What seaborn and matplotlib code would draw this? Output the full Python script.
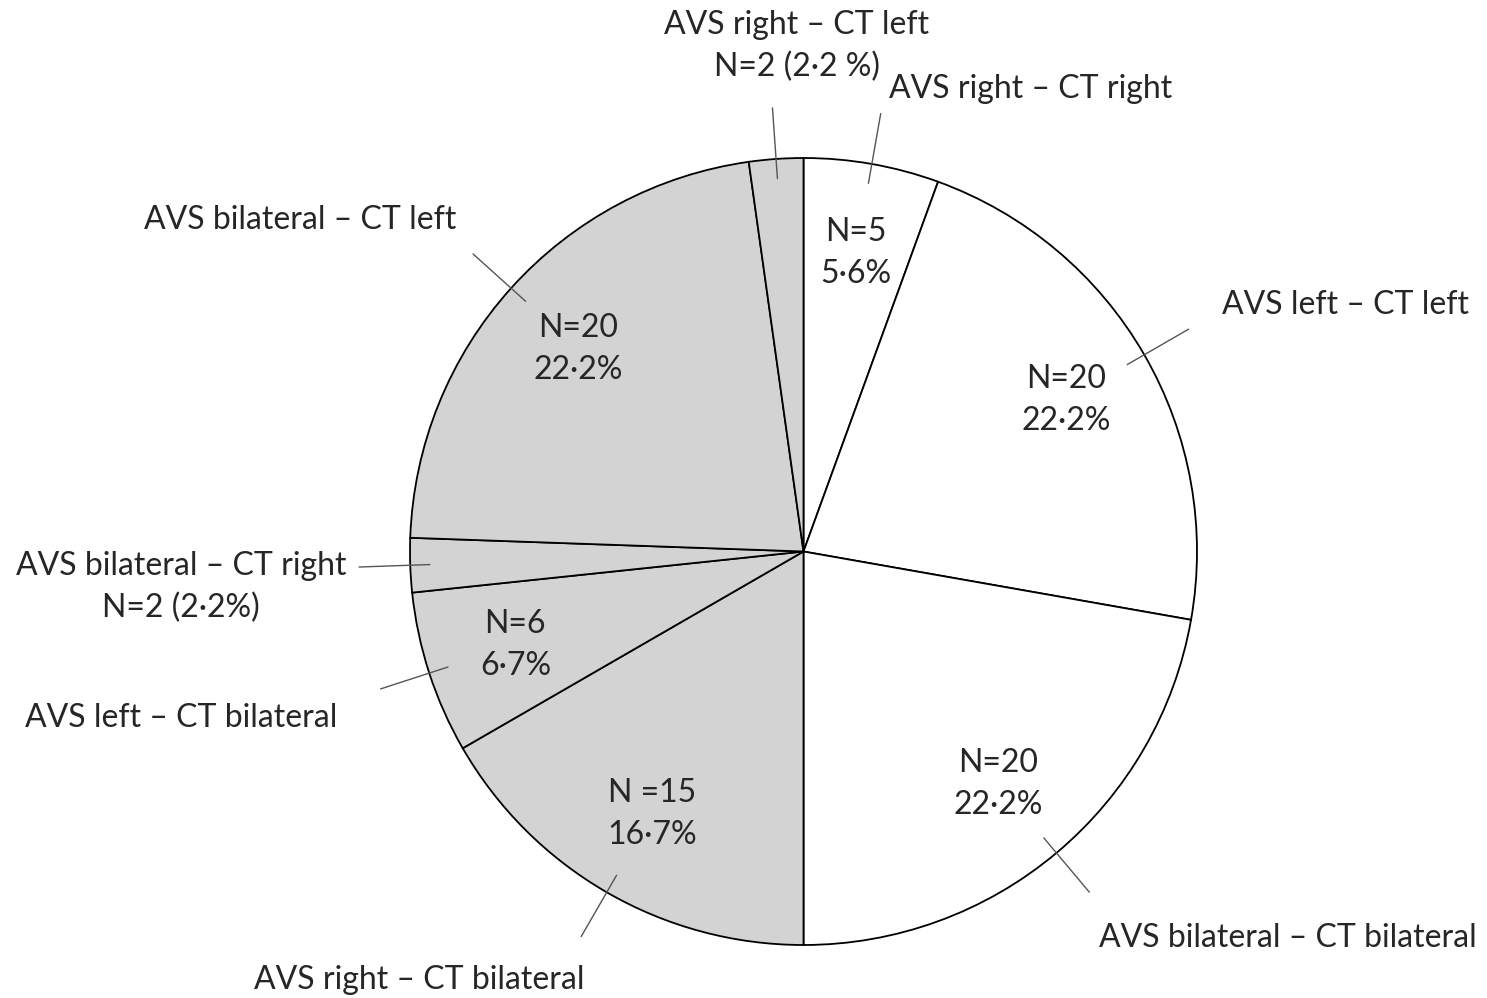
import numpy as np
import matplotlib
matplotlib.use("Agg")
import matplotlib.pyplot as plt
import seaborn as sns

# slices, clockwise from 12 o'clock
categories = [
    "AVS right \u2013 CT right",
    "AVS left \u2013 CT left",
    "AVS bilateral \u2013 CT bilateral",
    "AVS right \u2013 CT bilateral",
    "AVS left \u2013 CT bilateral",
    "AVS bilateral \u2013 CT right",
    "AVS bilateral \u2013 CT left",
    "AVS right \u2013 CT left",
]
counts = [5, 20, 20, 15, 6, 2, 20, 2]
inner_labels = ["N=5\n5\u00b76%", "N=20\n22\u00b72%", "N=20\n22\u00b72%", "N =15\n16\u00b77%",
                "N=6\n6\u00b77%", "", "N=20\n22\u00b72%", ""]
outer_labels = [
    "AVS right \u2013 CT right",
    "AVS left \u2013 CT left",
    "AVS bilateral \u2013 CT bilateral",
    "AVS right \u2013 CT bilateral",
    "AVS left \u2013 CT bilateral",
    "AVS bilateral \u2013 CT right\nN=2 (2\u00b72%)",
    "AVS bilateral \u2013 CT left",
    "AVS right \u2013 CT left\nN=2 (2\u00b72 %)",
]

W, H = 1487, 998
GRAY = "#d3d3d3"
colors = ["white"] * 3 + [GRAY] * 5
TXT = "#262626"
FS = 23

# outer label anchor positions in pixel space (x, y from top)
outer_pos = [(1031, 89), (1345, 305), (1288, 938), (419, 980),
             (181, 718), (181, 587), (300, 220), (797, 46)]

sns.set_theme(style="white")
plt.rcParams["font.family"] = ["Lato", "DejaVu Sans"]

fig = plt.figure(figsize=(W / 100, H / 100), dpi=100)
ax = fig.add_axes([0, 0, 1, 1])

cx, cy, R = 803.5, H - 551.5, 393.5
it = iter(inner_labels)
wedges, texts, autotexts = ax.pie(
    counts, colors=colors, startangle=90, counterclock=False,
    center=(cx, cy), radius=R, autopct=lambda p: next(it), pctdistance=0.77,
    wedgeprops=dict(edgecolor="black", linewidth=1.3),
    textprops=dict(fontsize=FS, color=TXT, linespacing=1.5),
)

for w, lab, (tx, ty) in zip(wedges, outer_labels, outer_pos):
    mid = np.deg2rad((w.theta1 + w.theta2) / 2)
    r0, r1 = 0.95 * R, 1.13 * R
    ax.plot([cx + r0 * np.cos(mid), cx + r1 * np.cos(mid)],
            [cy + r0 * np.sin(mid), cy + r1 * np.sin(mid)],
            color="#555555", lw=1.0)
    ax.text(tx, H - ty, lab, ha="center", va="center", fontsize=FS,
            color=TXT, linespacing=1.5)

ax.set_xlim(0, W)
ax.set_ylim(0, H)
ax.axis("off")
fig.savefig("out.png", dpi=100, facecolor="white")
